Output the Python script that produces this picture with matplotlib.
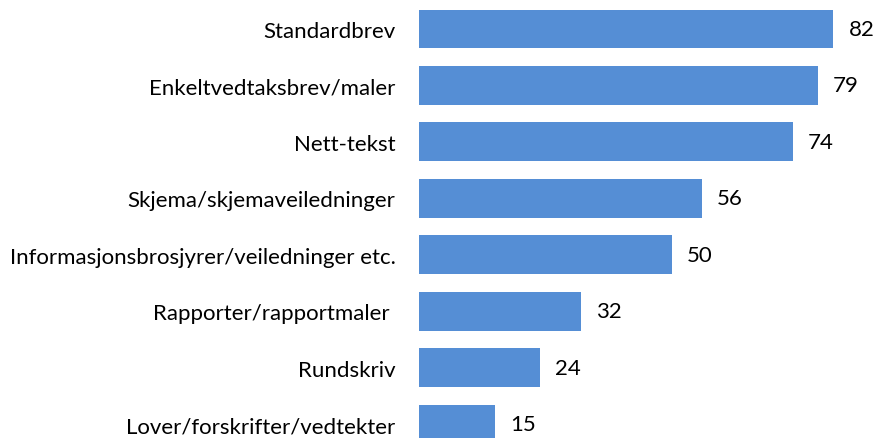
import matplotlib
matplotlib.use("Agg")
import matplotlib.pyplot as plt

categories = ["Standardbrev", "Enkeltvedtaksbrev/maler", "Nett-tekst",
              "Skjema/skjemaveiledninger", "Informasjonsbrosjyrer/veiledninger etc.",
              "Rapporter/rapportmaler ", "Rundskriv", "Lover/forskrifter/vedtekter"]
values = [82, 79, 74, 56, 50, 32, 24, 15]

W, H = 876, 439
fig = plt.figure(figsize=(W / 100, H / 100), dpi=100)
left = 419 / W
ax = fig.add_axes([left, 0, 1 - left, 1])
plt.rcParams['font.family'] = ['Lato', 'DejaVu Sans']
color = "#558ED5"
fam = ['Lato', 'DejaVu Sans']
fs = 16
ypos = list(range(len(categories)))
ax.barh(ypos, values, height=0.69, color=color)
ax.set_xlim(0, (W - 419) / 5.05)
ax.set_ylim(7 + 14 / 56.43, -30 / 56.43)
ax.set_yticks(ypos)
ax.set_yticklabels(categories, fontsize=fs, family=fam)
ax.tick_params(axis='y', length=0, pad=17)
ax.set_xticks([])
for s in ax.spines.values():
    s.set_visible(False)
for y, v in zip(ypos, values):
    ax.annotate(str(v), (v, y), xytext=(11, 0), textcoords='offset points',
                va='center', ha='left', fontsize=fs, family=fam)
fig.savefig("out.png", dpi=100)
